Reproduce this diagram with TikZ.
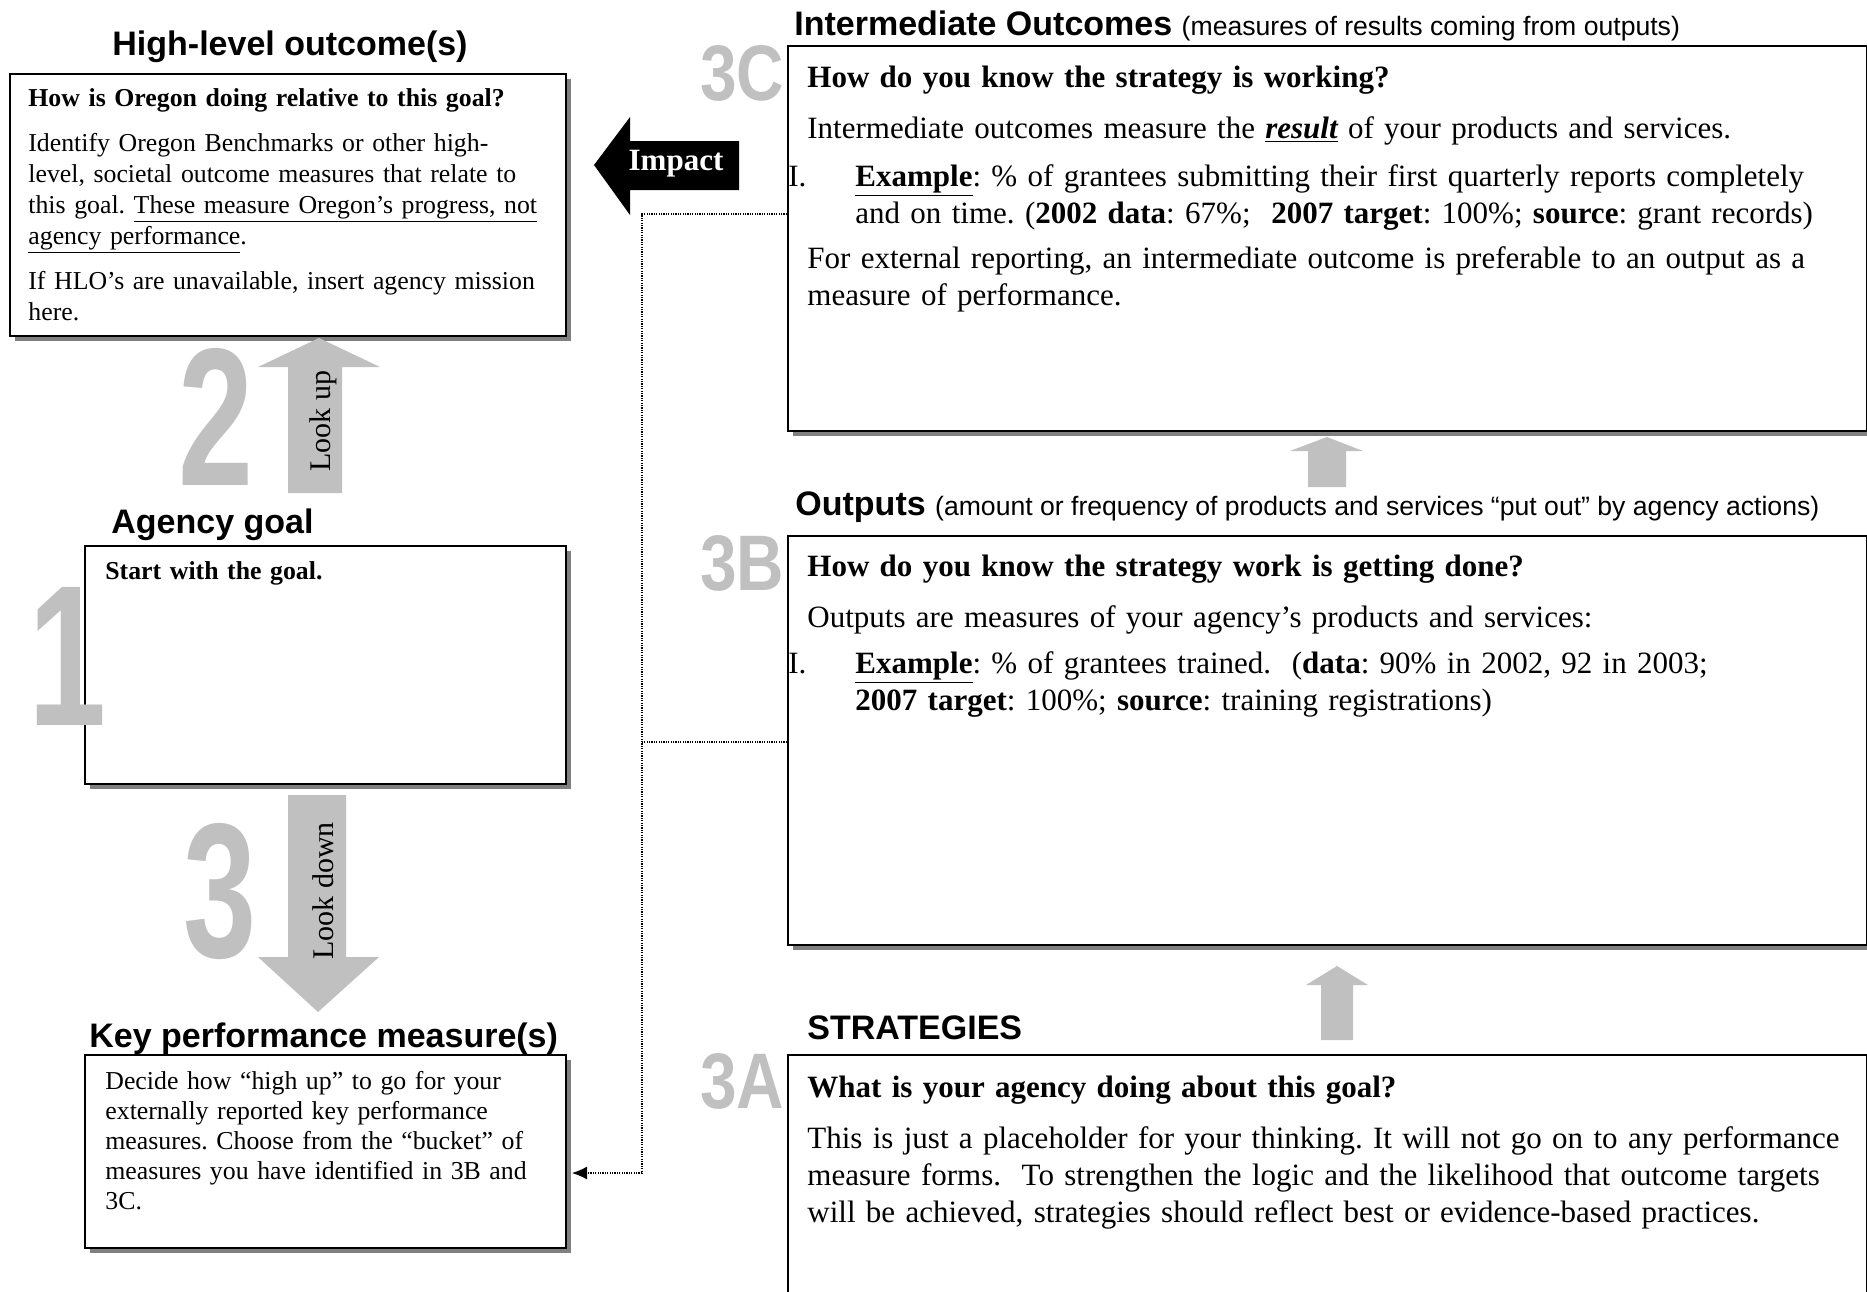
\documentclass[tikz,border=0pt]{standalone}
\usepackage{fontspec}
\setmainfont{Liberation Serif}
\setsansfont{Liberation Sans}
\usepackage{graphicx}
\usepackage{tikz}
\usetikzlibrary{arrows.meta, shadows}

\definecolor{numgray}{HTML}{C0C0C0}
\definecolor{shadegray}{HTML}{808080}
\newcommand{\stepnum}[3]{\resizebox{#1}{#2}{\sffamily\bfseries #3}}
\frenchspacing

\begin{document}
\begin{tikzpicture}[x=0.5pt, y=-0.5pt,
  box/.style={draw, line width=1pt, fill=white, anchor=north west, inner sep=0pt,
    drop shadow={shadow xshift=2.5pt, shadow yshift=-2.5pt, fill=shadegray, opacity=1}},
  heading/.style={anchor=base west, inner sep=0pt, font=\sffamily\bfseries\fontsize{17}{20}\selectfont},
  lefttext/.style={anchor=base west, inner sep=0pt, align=left, text width=270pt, font=\fontsize{12.9}{15.5}\selectfont},
  righttext/.style={anchor=base west, inner sep=0pt, align=left, text width=540pt, font=\fontsize{15.5}{18.5}\selectfont},
  num/.style={anchor=north west, inner sep=0pt, text=numgray},
  grayarrow/.style={fill=numgray},
  dotlink/.style={black, line width=0.6pt, dash pattern=on 0.6pt off 0.6pt}]
  \path[use as bounding box, fill=white] (0,0) rectangle (1867,1291);

  \node[box, minimum width=278pt, minimum height=131pt] (hlo) at (9,73) {};
  \node[box, minimum width=240.5pt, minimum height=119pt] (goal) at (84,545) {};
  \node[box, minimum width=240.5pt, minimum height=96.5pt] (kpm) at (84,1054) {};
  \node[box, minimum width=539.5pt, minimum height=192.5pt] (io) at (787,45) {};
  \node[box, minimum width=539.5pt, minimum height=204.5pt] (out) at (787,535) {};
  \node[box, minimum width=539.5pt, minimum height=130pt] (strat) at (787,1054) {};

  \node[num] (n2) at (178,348) {\stepnum{37.5pt}{68.5pt}{2}};
  \node[num] (n1) at (28,587) {\stepnum{39pt}{69pt}{1}};
  \node[num] (n3) at (183,823) {\stepnum{36.5pt}{67pt}{3}};
  \node[num] (n3c) at (700,45) {\stepnum{42pt}{27.5pt}{3C}};
  \node[num] (n3b) at (700,535) {\stepnum{42pt}{27.5pt}{3B}};
  \node[num] (n3a) at (700,1053) {\stepnum{42pt}{27.5pt}{3A}};

  \node[heading, anchor=base] (hlotitle) at (290,55) {High-level outcome(s)};
  \node[heading] (goaltitle) at (111,533) {Agency goal};
  \node[heading] (kpmtitle) at (89,1047) {Key performance measure(s)};
  \node[heading] (iotitle) at (794,35) {Intermediate Outcomes {\mdseries\fontsize{13.3}{16}\selectfont (measures of results coming from outputs)}};
  \node[heading] (outtitle) at (795,515) {Outputs {\mdseries\fontsize{13.3}{16}\selectfont (amount or frequency of products and services “put out” by agency actions)}};
  \node[heading] (strattitle) at (807,1039) {STRATEGIES};

  \node[lefttext] (hlotext) at (28,106) {\textbf{How is Oregon doing relative to this goal?}\\[7pt]
    Identify Oregon Benchmarks or other high-\\
    level, societal outcome measures that relate to\\
    this goal. \underline{These measure Oregon’s progress, not}\\
    \underline{agency performance}.\\[7pt]
    If HLO’s are unavailable, insert agency mission\\
    here.};
  \node[lefttext] (goaltext) at (105,579) {\textbf{Start with the goal.}};
  \node[lefttext, font=\fontsize{12.9}{15}\selectfont] (kpmtext) at (105,1089) {Decide how “high up” to go for your\\
    externally reported key performance\\
    measures. Choose from the “bucket” of\\
    measures you have identified in 3B and\\
    3C.};

  \node[righttext] (iotext) at (807,87) {\textbf{How do you know the strategy is working?}\\[7pt]
    Intermediate outcomes measure the \textbf{\textit{\underline{result}}} of your products and services.\\[5.5pt]
    \hspace*{-9.5pt}\makebox[33.5pt][l]{I.}\textbf{\underline{Example}}: \% of grantees submitting their first quarterly reports completely\\
    \hspace*{24pt}and on time. (\textbf{2002 data}: 67\%;\ \ \textbf{2007 target}: 100\%; \textbf{source}: grant records)\\[4pt]
    For external reporting, an intermediate outcome is preferable to an output as a\\
    measure of performance.};
  \node[righttext] (outtext) at (807,576) {\textbf{How do you know the strategy work is getting done?}\\[7pt]
    Outputs are measures of your agency’s products and services:\\[4.5pt]
    \hspace*{-9.5pt}\makebox[33.5pt][l]{I.}\textbf{\underline{Example}}: \% of grantees trained.\ \ (\textbf{data}: 90\% in 2002, 92 in 2003;\\
    \hspace*{24pt}\textbf{2007 target}: 100\%; \textbf{source}: training registrations)};
  \node[righttext] (strattext) at (807,1097) {\textbf{What is your agency doing about this goal?}\\[7pt]
    This is just a placeholder for your thinking. It will not go on to any performance\\
    measure forms.\ \ To strengthen the logic and the likelihood that outcome targets\\
    will be achieved, strategies should reflect best or evidence-based practices.};

  \fill[grayarrow] (288,493) -- (288,367) -- (258,367) -- (319,338) -- (380,367) -- (342,367) -- (342,493) -- cycle;
  \node[rotate=90, font=\fontsize{15}{18}\selectfont] (lookup) at (323,421) {Look up};
  \fill[grayarrow] (288,795) -- (288,957) -- (258,957) -- (318,1012) -- (379,957) -- (346,957) -- (346,795) -- cycle;
  \node[rotate=90, font=\fontsize{15}{18}\selectfont] (lookdown) at (323,891) {Look down};
  \fill[grayarrow] (1308,487) -- (1308,451) -- (1290,451) -- (1327,437) -- (1363,451) -- (1346,451) -- (1346,487) -- cycle;
  \fill[grayarrow] (1321,1040) -- (1321,985) -- (1306,985) -- (1337,966) -- (1368,985) -- (1353,985) -- (1353,1040) -- cycle;

  \fill (594,165) -- (630,117) -- (630,141) -- (739,141) -- (739,190) -- (630,190) -- (630,215) -- cycle;
  \node[text=white, font=\bfseries\fontsize{15.5}{18}\selectfont] (impact) at (676,164) {Impact};

  \coordinate (ioport) at (787,214);
  \coordinate (outport) at (787,742);
  \coordinate (kpmport) at (572,1173);
  \coordinate (trunk) at (642,0);
  \draw[dotlink, -{Latex[length=7.5pt, width=6.5pt]}] (ioport) -- (ioport -| trunk) -- (kpmport -| trunk) -- (kpmport);
  \draw[dotlink] (outport) -- (outport -| trunk);
\end{tikzpicture}
\end{document}
